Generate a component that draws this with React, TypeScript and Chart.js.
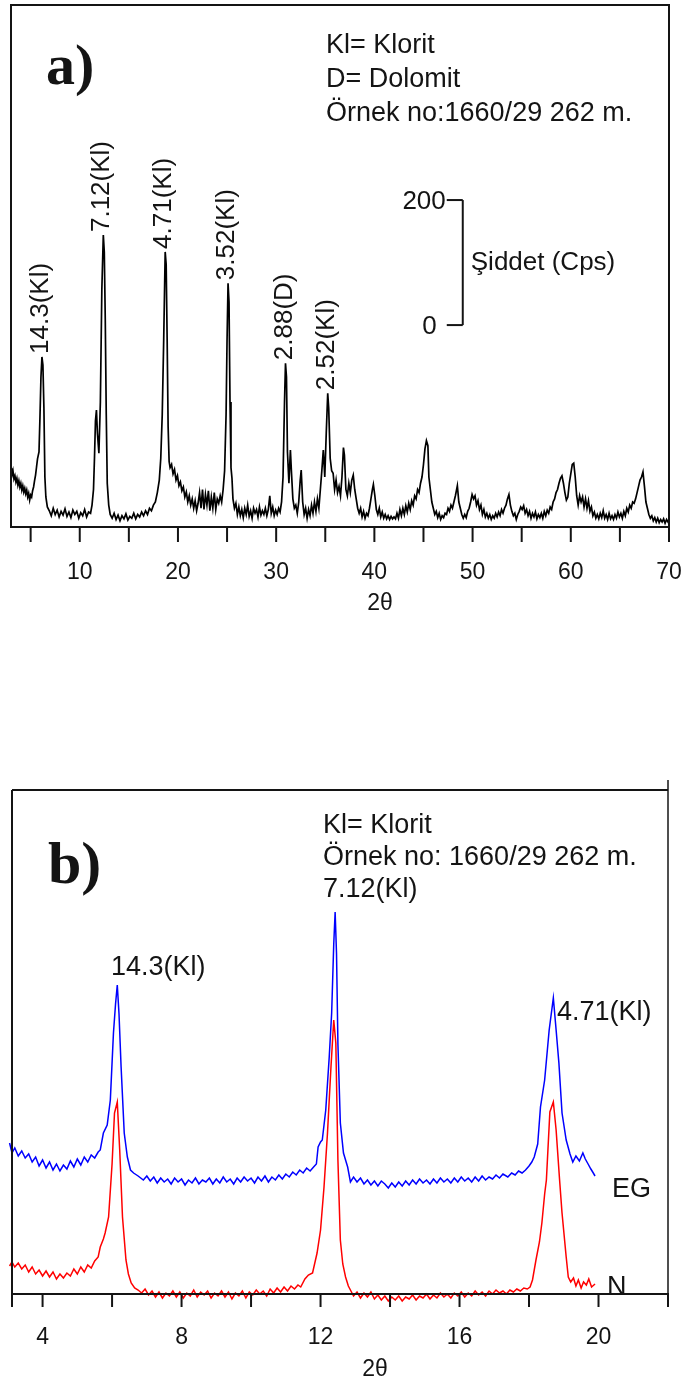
import React, { useEffect, useRef } from "react";
import { Chart, registerables } from "chart.js";
Chart.register(...registerables);

// ---------- Chart a) : 2θ (deg) vs intensity (cps) ----------
const angleA = [
  3.0, 3.1, 3.2, 3.3, 3.4, 3.5, 3.6, 3.7, 3.8, 3.9,
  4.0, 4.1, 4.2, 4.3, 4.4, 4.5, 4.6, 4.7, 4.8, 4.9,
  5.0, 5.1, 5.2, 5.3, 5.4, 5.5, 5.6, 5.7, 5.85, 5.95,
  6.05, 6.15, 6.25, 6.35, 6.45, 6.55, 6.7, 6.9, 7.1, 7.3,
  7.5, 7.7, 7.9, 8.1, 8.3, 8.5, 8.7, 8.9, 9.1, 9.3,
  9.5, 9.7, 9.9, 10.1, 10.3, 10.5, 10.7, 10.9, 11.1, 11.25,
  11.4, 11.5, 11.6, 11.7, 11.8, 11.95, 12.1, 12.25, 12.4, 12.5,
  12.6, 12.7, 12.8, 12.95, 13.1, 13.3, 13.5, 13.7, 13.9, 14.1,
  14.3, 14.5, 14.7, 14.9, 15.1, 15.3, 15.5, 15.7, 15.9, 16.1,
  16.3, 16.5, 16.7, 16.9, 17.1, 17.3, 17.5, 17.7, 17.9, 18.1,
  18.25, 18.4, 18.55, 18.7, 18.8, 18.9, 19.0, 19.1, 19.2, 19.35,
  19.5, 19.65, 19.8, 19.95, 20.1, 20.25, 20.4, 20.55, 20.7, 20.85,
  21.0, 21.15, 21.3, 21.45, 21.6, 21.75, 21.9, 22.05, 22.2, 22.35,
  22.5, 22.65, 22.8, 22.95, 23.1, 23.25, 23.4, 23.55, 23.7, 23.85,
  24.0, 24.15, 24.3, 24.45, 24.6, 24.75, 24.9, 25.0, 25.1, 25.2,
  25.3, 25.4, 25.5, 25.6, 25.75, 25.9, 26.05, 26.2, 26.35, 26.5,
  26.65, 26.8, 26.95, 27.1, 27.25, 27.4, 27.55, 27.7, 27.85, 28.0,
  28.15, 28.3, 28.45, 28.6, 28.75, 28.9, 29.05, 29.2, 29.35, 29.5,
  29.65, 29.8, 29.95, 30.1, 30.25, 30.4, 30.55, 30.7, 30.85, 30.95,
  31.05, 31.15, 31.3, 31.45, 31.55, 31.7, 31.85, 32.0, 32.15, 32.3,
  32.45, 32.55, 32.7, 32.85, 33.0, 33.15, 33.3, 33.45, 33.6, 33.75,
  33.9, 34.05, 34.2, 34.35, 34.5, 34.65, 34.8, 34.95, 35.1, 35.25,
  35.35, 35.5, 35.65, 35.8, 35.95, 36.1, 36.25, 36.4, 36.55, 36.7,
  36.85, 36.95, 37.1, 37.25, 37.4, 37.55, 37.7, 37.85, 38.0, 38.15,
  38.3, 38.45, 38.6, 38.75, 38.9, 39.05, 39.2, 39.35, 39.5, 39.65,
  39.8, 39.9, 40.05, 40.2, 40.35, 40.5, 40.65, 40.8, 40.95, 41.1,
  41.25, 41.4, 41.55, 41.7, 41.85, 42.0, 42.15, 42.3, 42.45, 42.6,
  42.75, 42.9, 43.05, 43.2, 43.35, 43.5, 43.65, 43.8, 43.95, 44.1,
  44.25, 44.4, 44.55, 44.7, 44.85, 45.0, 45.15, 45.3, 45.45, 45.55,
  45.7, 45.85, 46.0, 46.15, 46.3, 46.45, 46.6, 46.75, 46.9, 47.05,
  47.2, 47.35, 47.5, 47.65, 47.8, 47.95, 48.1, 48.25, 48.45, 48.6,
  48.75, 48.9, 49.05, 49.2, 49.35, 49.5, 49.65, 49.8, 49.95, 50.1,
  50.25, 50.4, 50.55, 50.7, 50.85, 51.0, 51.15, 51.3, 51.45, 51.6,
  51.75, 51.9, 52.05, 52.2, 52.35, 52.5, 52.65, 52.8, 52.95, 53.1,
  53.25, 53.4, 53.55, 53.7, 53.85, 54.0, 54.15, 54.3, 54.45, 54.6,
  54.75, 54.9, 55.05, 55.2, 55.35, 55.5, 55.65, 55.8, 55.95, 56.1,
  56.25, 56.4, 56.55, 56.7, 56.85, 57.0, 57.15, 57.3, 57.45, 57.6,
  57.75, 57.9, 58.05, 58.2, 58.35, 58.5, 58.65, 58.8, 58.95, 59.1,
  59.25, 59.4, 59.55, 59.7, 59.85, 60.0, 60.15, 60.3, 60.45, 60.6,
  60.75, 60.9, 61.05, 61.2, 61.35, 61.5, 61.65, 61.8, 61.95, 62.1,
  62.25, 62.4, 62.55, 62.7, 62.85, 63.0, 63.15, 63.3, 63.45, 63.6,
  63.75, 63.9, 64.05, 64.2, 64.35, 64.5, 64.65, 64.8, 64.95, 65.1,
  65.25, 65.4, 65.55, 65.7, 65.85, 66.0, 66.15, 66.3, 66.45, 66.6,
  66.75, 66.9, 67.05, 67.2, 67.35, 67.5, 67.65, 67.8, 67.95, 68.1,
  68.25, 68.4, 68.55, 68.7, 68.85, 69.0, 69.15, 69.3, 69.45, 69.6,
  69.75, 69.9, 70.0,
];
const countA = [
  94, 83, 90, 77, 82, 72, 78, 67, 74, 64,
  70, 59, 66, 56, 62, 53, 59, 48, 54, 43,
  51, 48, 58, 64, 74, 83, 96, 109, 120, 176,
  240, 272, 259, 192, 80, 48, 32, 26, 18, 30,
  20, 27, 16, 25, 19, 29, 17, 24, 15, 27,
  20, 25, 14, 23, 18, 28, 16, 24, 22, 35,
  60, 110, 170, 187, 150, 118, 200, 380, 467, 440,
  330, 180, 70, 35, 20, 14, 22, 12, 19, 10,
  18, 13, 21, 11, 17, 14, 22, 13, 20, 16,
  24, 18, 26, 20, 30, 26, 35, 40, 55, 75,
  110, 180, 300, 440, 420, 300, 160, 105, 95, 100,
  85, 92, 75, 82, 66, 72, 58, 64, 48, 56,
  40, 50, 35, 45, 30, 42, 26, 38, 55, 30,
  60, 28, 52, 35, 58, 26, 48, 30, 55, 28,
  45, 38, 50, 40, 60, 90, 180, 300, 390, 360,
  200, 95, 78, 45, 30, 38, 20, 32, 18, 28,
  15, 30, 20, 35, 17, 26, 14, 30, 22, 28,
  16, 32, 19, 26, 20, 30, 18, 28, 50, 22,
  32, 18, 27, 20, 30, 24, 40, 80, 200, 262,
  240, 120, 70, 123, 90, 45, 30, 35, 22, 40,
  75, 91, 40, 20, 30, 14, 28, 18, 35, 22,
  40, 25, 45, 30, 60, 90, 123, 80, 150, 214,
  190, 110, 90, 86, 60, 75, 55, 65, 50, 80,
  127, 115, 60, 50, 70, 55, 75, 83, 60, 45,
  30, 22, 30, 16, 25, 14, 22, 18, 30, 45,
  60, 68, 50, 28, 20, 30, 16, 24, 14, 20,
  13, 18, 12, 17, 13, 16, 13, 22, 14, 28,
  18, 30, 20, 34, 24, 38, 28, 42, 35, 50,
  45, 60, 55, 70, 80, 100, 125, 138, 130, 80,
  60, 40, 30, 20, 25, 15, 22, 12, 18, 15,
  22, 20, 30, 25, 35, 30, 40, 50, 66, 40,
  30, 20, 14, 20, 15, 25, 30, 40, 52, 45,
  50, 35, 42, 28, 35, 20, 28, 16, 22, 14,
  20, 12, 18, 14, 22, 16, 24, 18, 28, 22,
  30, 35, 45, 52, 35, 25, 18, 22, 12, 20,
  25, 32, 28, 34, 22, 28, 18, 25, 14, 22,
  16, 24, 13, 20, 15, 22, 14, 25, 18, 27,
  22, 32, 28, 40, 45, 55, 60, 70, 78, 82,
  70, 55, 43, 48, 70, 85, 100, 102, 80, 50,
  35, 50, 40, 48, 32, 45, 30, 42, 25, 32,
  18, 24, 14, 20, 13, 22, 15, 26, 14, 20,
  12, 22, 13, 18, 12, 20, 14, 24, 16, 22,
  14, 25, 18, 30, 24, 35, 30, 40, 38, 45,
  55, 65, 75, 80, 88, 65, 40, 30, 20, 14,
  18, 10, 15, 8, 14, 7, 12, 8, 13, 6,
  12, 8, 10,
];
const peakTextA = ["14.3(Kl)", "7.12(Kl)", "4.71(Kl)", "3.52(Kl)", "2.88(D)", "2.52(Kl)"];
const peakAngleA = [6.15, 12.4, 18.7, 25.1, 30.95, 35.25];
const tickValuesA = [5, 10, 15, 20, 25, 30, 35, 40, 45, 50, 55, 60, 65, 70];
const tickLabelsA = [10, 20, 30, 40, 50, 60, 70];
const legendLinesA = ["Kl= Klorit", "D= Dolomit", "Örnek no:1660/29 262 m."];
const scaleBarAngle = 49;
const scaleBarBase = 323;
const scaleBarSpan = 200;

// ---------- Chart b) : EG and N traces ----------
const angleEG = [
  3.0, 3.05, 3.12, 3.2, 3.3, 3.4, 3.5, 3.6, 3.7, 3.8,
  3.9, 4.0, 4.1, 4.2, 4.3, 4.4, 4.5, 4.6, 4.7, 4.8,
  4.9, 5.0, 5.1, 5.2, 5.3, 5.4, 5.5, 5.6, 5.66, 5.75,
  5.86, 5.95, 6.04, 6.1, 6.15, 6.2, 6.26, 6.35, 6.44, 6.53,
  6.62, 6.75, 6.9, 7.0, 7.1, 7.2, 7.3, 7.4, 7.5, 7.6,
  7.7, 7.8, 7.9, 8.0, 8.1, 8.2, 8.3, 8.4, 8.5, 8.6,
  8.7, 8.8, 8.9, 9.0, 9.1, 9.2, 9.3, 9.4, 9.5, 9.6,
  9.7, 9.8, 9.9, 10.0, 10.1, 10.2, 10.3, 10.4, 10.5, 10.6,
  10.7, 10.8, 10.9, 11.0, 11.1, 11.2, 11.3, 11.4, 11.5, 11.6,
  11.7, 11.8, 11.88, 11.93, 12.0, 12.05, 12.15, 12.25, 12.32, 12.38,
  12.42, 12.46, 12.5, 12.57, 12.66, 12.78, 12.86, 12.95, 13.05, 13.15,
  13.25, 13.35, 13.45, 13.55, 13.65, 13.75, 13.85, 13.95, 14.05, 14.15,
  14.25, 14.35, 14.45, 14.55, 14.65, 14.75, 14.85, 14.95, 15.05, 15.15,
  15.25, 15.35, 15.45, 15.55, 15.65, 15.75, 15.85, 15.95, 16.05, 16.15,
  16.25, 16.35, 16.45, 16.55, 16.65, 16.75, 16.85, 16.95, 17.05, 17.15,
  17.25, 17.39, 17.5, 17.6, 17.7, 17.8, 17.9, 18.0, 18.08, 18.15,
  18.25, 18.33, 18.45, 18.58, 18.7, 18.78, 18.86, 18.95, 19.07, 19.18,
  19.26, 19.35, 19.45, 19.55, 19.62, 19.7, 19.78, 19.85, 19.9,
];
const countEG = [
  164, 151, 141, 146, 138, 143, 136, 140, 132, 137,
  128, 134, 126, 132, 124, 130, 123, 129, 125, 133,
  127, 135, 129, 137, 132, 139, 136, 142, 144, 161,
  169, 194, 261, 290, 309, 280, 227, 161, 137, 124,
  121, 118, 114, 118, 113, 117, 111, 116, 112, 115,
  110, 116, 112, 115, 109, 114, 111, 116, 110, 114,
  112, 116, 110, 115, 111, 117, 112, 115, 110, 116,
  112, 117, 113, 116, 111, 117, 113, 118, 112, 117,
  114, 119, 115, 120, 117, 122, 119, 124, 121, 126,
  123, 127, 130, 147, 152, 154, 184, 237, 281, 350,
  382, 340, 250, 171, 141, 127, 112, 117, 112, 116,
  110, 114, 109, 113, 108, 113, 110, 106, 111, 107,
  112, 108, 113, 109, 114, 110, 115, 111, 114, 110,
  115, 111, 116, 112, 115, 111, 116, 112, 117, 113,
  116, 112, 117, 113, 118, 114, 117, 115, 119, 116,
  120, 117, 121, 119, 123, 121, 124, 128, 132, 137,
  150, 187, 214, 264, 296, 264, 231, 181, 154, 140,
  132, 138, 133, 141, 135, 130, 125, 121, 118,
];
const angleN = [
  3.0, 3.05, 3.12, 3.2, 3.3, 3.4, 3.5, 3.6, 3.7, 3.8,
  3.9, 4.0, 4.1, 4.2, 4.3, 4.4, 4.5, 4.6, 4.7, 4.8,
  4.9, 5.0, 5.1, 5.2, 5.3, 5.4, 5.5, 5.6, 5.66, 5.75,
  5.8, 5.9, 6.0, 6.07, 6.15, 6.22, 6.3, 6.4, 6.47, 6.55,
  6.65, 6.75, 6.85, 6.95, 7.05, 7.15, 7.25, 7.35, 7.45, 7.55,
  7.65, 7.75, 7.85, 7.95, 8.05, 8.15, 8.25, 8.35, 8.45, 8.55,
  8.65, 8.75, 8.85, 8.95, 9.05, 9.15, 9.25, 9.35, 9.45, 9.55,
  9.65, 9.75, 9.85, 9.95, 10.05, 10.15, 10.25, 10.35, 10.45, 10.55,
  10.65, 10.75, 10.85, 10.95, 11.05, 11.15, 11.25, 11.35, 11.43, 11.55,
  11.65, 11.77, 11.9, 12.0, 12.1, 12.2, 12.3, 12.38, 12.44, 12.5,
  12.57, 12.64, 12.72, 12.8, 12.86, 12.95, 13.05, 13.15, 13.25, 13.35,
  13.45, 13.55, 13.65, 13.75, 13.85, 13.95, 14.05, 14.15, 14.25, 14.35,
  14.45, 14.55, 14.65, 14.75, 14.85, 14.95, 15.05, 15.15, 15.25, 15.35,
  15.45, 15.55, 15.65, 15.75, 15.85, 15.95, 16.05, 16.15, 16.25, 16.35,
  16.45, 16.55, 16.65, 16.75, 16.85, 16.95, 17.05, 17.15, 17.25, 17.35,
  17.45, 17.55, 17.65, 17.75, 17.85, 17.95, 18.03, 18.1, 18.2, 18.3,
  18.37, 18.45, 18.5, 18.6, 18.7, 18.78, 18.88, 18.95, 19.07, 19.13,
  19.2, 19.28, 19.35, 19.42, 19.5, 19.57, 19.65, 19.72, 19.8, 19.9,
];
const countN = [
  34, 28, 32, 27, 31, 25, 29, 22, 27, 20,
  24, 18, 23, 17, 22, 15, 20, 16, 21, 18,
  25, 20, 27, 22, 29, 26, 33, 37, 47, 55,
  61, 77, 130, 181, 192, 144, 77, 34, 20, 11,
  6, 4, 1, 5, -1, 3, -3, 2, -4, 1,
  -2, 3, -3, 2, -4, 1, -2, 4, -3, 2,
  -1, 3, -4, 1, -2, 3, -3, 2, -5, 1,
  -2, 3, -4, 2, -1, 4, 0, 3, -2, 5,
  1, 6, 2, 7, 3, 8, 5, 9, 7, 15,
  19, 21, 41, 64, 107, 161, 227, 274, 251, 134,
  54, 30, 17, 8, 4, -2, 2, -4, 1, -3,
  2, -5, -1, -6, -2, -7, -3, -6, -2, -7,
  -3, -5, -1, -6, -2, -4, 0, -5, -1, -4,
  1, -3, 0, -4, 1, -2, 2, -3, 1, -2,
  3, -1, 2, -2, 3, 0, 4, 1, 3, 0,
  4, 2, 5, 3, 6, 5, 7, 14, 34, 52,
  71, 100, 114, 182, 192, 164, 114, 81, 37, 17,
  12, 16, 8, 14, 6, 12, 9, 15, 7, 10,
];
const tickValuesB = [4, 6, 8, 10, 12, 14, 16, 18, 20, 22];
const tickLabelsB = [4, 8, 12, 16, 20];
const legendLinesB = ["Kl= Klorit", "Örnek no: 1660/29 262 m."];

const SANS = '"Liberation Sans", Arial, sans-serif';
const SERIF = '"Liberation Serif", "Times New Roman", serif';
const INK = "#141414";

function seg(ctx: CanvasRenderingContext2D, x1: number, y1: number, x2: number, y2: number) {
  ctx.beginPath();
  ctx.moveTo(x1, y1);
  ctx.lineTo(x2, y2);
  ctx.stroke();
}

function label(
  ctx: CanvasRenderingContext2D,
  s: string,
  x: number,
  y: number,
  size: number,
  align: CanvasTextAlign = "left",
  baseline: CanvasTextBaseline = "middle",
  font: string = SANS,
  weight = ""
) {
  ctx.font = `${weight} ${size}px ${font}`.trim();
  ctx.textAlign = align;
  ctx.textBaseline = baseline;
  ctx.fillStyle = INK;
  ctx.fillText(s, x, y);
}

const plotA = {
  id: "plotA",
  afterDraw(chart: any) {
    const { ctx, chartArea: ca } = chart;
    const xs = chart.scales.x;
    const ys = chart.scales.y;
    ctx.save();
    ctx.strokeStyle = INK;
    ctx.lineWidth = 2;
    ctx.strokeRect(ca.left, ca.top, ca.right - ca.left, ca.bottom - ca.top);
    tickValuesA.forEach((v) => {
      const px = xs.getPixelForValue(v);
      seg(ctx, px, ca.bottom, px, ca.bottom + 15);
    });
    tickLabelsA.forEach((v) => {
      label(ctx, String(v), xs.getPixelForValue(v), ca.bottom + 46, 23, "center");
    });
    label(ctx, "2θ", 380, ca.bottom + 77, 23, "center");

    // peak labels
    peakTextA.forEach((t, i) => {
      const a = peakAngleA[i];
      const idx = angleA.indexOf(a);
      const px = xs.getPixelForValue(a);
      const py = ys.getPixelForValue(countA[idx]);
      ctx.save();
      ctx.translate(px - 1, py - 3);
      ctx.rotate(-Math.PI / 2);
      label(ctx, t, 0, 0, 26, "left", "middle");
      ctx.restore();
    });

    // intensity scale bar
    const bx = xs.getPixelForValue(scaleBarAngle);
    const y0 = ys.getPixelForValue(scaleBarBase);
    const y1 = ys.getPixelForValue(scaleBarBase + scaleBarSpan);
    ctx.lineWidth = 2;
    seg(ctx, bx, y0, bx, y1);
    seg(ctx, bx - 16, y0, bx, y0);
    seg(ctx, bx - 16, y1, bx, y1);
    label(ctx, String(scaleBarSpan), bx - 17, y1 + 2, 26, "right");
    label(ctx, "0", bx - 26, y0 + 2, 26, "right");
    label(ctx, "Şiddet (Cps)", bx + 8, (y0 + y1) / 2, 26, "left");

    // legend block
    legendLinesA.forEach((s, i) => label(ctx, s, 326, 46 + i * 34, 27, "left"));
    label(ctx, "a)", 46, 84, 58, "left", "alphabetic", SERIF, "bold");
    ctx.restore();
  },
};

const plotB = {
  id: "plotB",
  afterDraw(chart: any) {
    const { ctx, chartArea: ca } = chart;
    const xs = chart.scales.x;
    ctx.save();
    ctx.strokeStyle = INK;
    ctx.lineWidth = 2;
    seg(ctx, ca.left, ca.top, ca.right, ca.top);
    seg(ctx, ca.left, ca.top, ca.left, ca.bottom + 13);
    seg(ctx, ca.left - 1, ca.bottom, ca.right + 1, ca.bottom);
    ctx.lineWidth = 1.5;
    seg(ctx, ca.right, ca.top - 10, ca.right, ca.bottom);
    ctx.lineWidth = 2;
    tickValuesB.forEach((v) => {
      const px = xs.getPixelForValue(v);
      seg(ctx, px, ca.bottom, px, ca.bottom + 13);
    });
    tickLabelsB.forEach((v) => {
      label(ctx, String(v), xs.getPixelForValue(v), ca.bottom + 44, 23, "center");
    });
    label(ctx, "2θ", 375, ca.bottom + 76, 23, "center");

    legendLinesB.forEach((s, i) => label(ctx, s, 323, 126 + i * 32, 27, "left"));
    label(ctx, "7.12(Kl)", 323, 190, 27, "left");
    label(ctx, "14.3(Kl)", 111, 268, 27, "left");
    label(ctx, "4.71(Kl)", 557, 313, 27, "left");
    label(ctx, "EG", 612, 490, 27, "left");
    label(ctx, "N", 607, 588, 27, "left");
    label(ctx, "b)", 48, 183, 60, "left", "alphabetic", SERIF, "bold");
    ctx.restore();
  },
};

function toPoints(xs: number[], ys: number[]) {
  return xs.map((x, i) => ({ x, y: ys[i] }));
}

export default function App() {
  const refA = useRef<HTMLCanvasElement>(null);
  const refB = useRef<HTMLCanvasElement>(null);

  useEffect(() => {
    document.body.style.margin = "0";
    const chartA = new Chart(refA.current!, {
      type: "line",
      data: {
        datasets: [
          {
            data: toPoints(angleA, countA),
            borderColor: "#000",
            borderWidth: 1.7,
            pointRadius: 0,
            fill: false,
            tension: 0,
          },
        ],
      },
      options: {
        responsive: false,
        animation: false,
        events: [],
        layout: { padding: { left: 11, right: 15, top: 5, bottom: 113 } },
        plugins: { legend: { display: false }, tooltip: { enabled: false } },
        scales: {
          x: { type: "linear", display: false, min: 3, max: 70 },
          y: { type: "linear", display: false, min: 0, max: 835 },
        },
      },
      plugins: [plotA],
    });
    const chartB = new Chart(refB.current!, {
      type: "line",
      data: {
        datasets: [
          {
            data: toPoints(angleEG, countEG),
            borderColor: "#0000ff",
            borderWidth: 1.5,
            pointRadius: 0,
            fill: false,
            tension: 0,
            clip: false,
          },
          {
            data: toPoints(angleN, countN),
            borderColor: "#ff0000",
            borderWidth: 1.5,
            pointRadius: 0,
            fill: false,
            tension: 0,
            clip: false,
          },
        ],
      },
      options: {
        responsive: false,
        animation: false,
        events: [],
        layout: { padding: { left: 12, right: 16, top: 90, bottom: 94 } },
        plugins: { legend: { display: false }, tooltip: { enabled: false } },
        scales: {
          x: { type: "linear", display: false, min: 3.12, max: 22 },
          y: { type: "linear", display: false, min: 0, max: 504 },
        },
      },
      plugins: [plotB],
    });
    return () => {
      chartA.destroy();
      chartB.destroy();
    };
  }, []);

  return (
    <div style={{ position: "relative", width: 684, height: 1388, background: "#fff" }}>
      <canvas
        ref={refA}
        width={684}
        height={640}
        style={{ position: "absolute", left: 0, top: 0, display: "block" }}
      />
      <canvas
        ref={refB}
        width={684}
        height={688}
        style={{ position: "absolute", left: 0, top: 700, display: "block" }}
      />
    </div>
  );
}
